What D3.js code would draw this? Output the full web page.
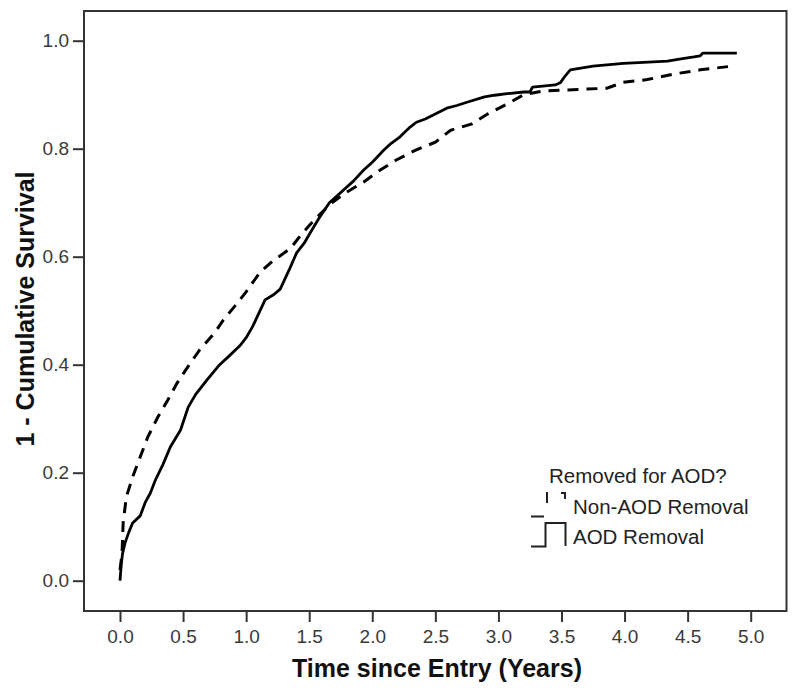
<!DOCTYPE html>
<html>
<head>
<meta charset="utf-8">
<script src="https://cdn.jsdelivr.net/npm/d3@7"></script>
<style>
  html, body { margin: 0; padding: 0; background: #fff; }
  svg { display: block; font-family: "Liberation Sans", Arial, sans-serif; }
</style>
</head>
<body>
<svg id="chart" width="800" height="699"></svg>
<script>
// ---- Data ----
const xTicks = [0, 0.5, 1, 1.5, 2, 2.5, 3, 3.5, 4, 4.5, 5];
const yTicks = [0, 0.2, 0.4, 0.6, 0.8, 1.0];
const seriesNames = ["Non-AOD Removal", "AOD Removal"];
const legendTitle = "Removed for AOD?";
const xTitle = "Time since Entry (Years)";
const yTitle = "1 - Cumulative Survival";

const aodTime = [0, 0.01, 0.02, 0.04, 0.07, 0.10, 0.16, 0.20, 0.24, 0.28, 0.34, 0.40, 0.48, 0.54, 0.60, 0.69,
  0.79, 0.86, 0.95, 1.00, 1.05, 1.09, 1.15, 1.22, 1.27, 1.34, 1.40, 1.46, 1.52, 1.58, 1.66, 1.77, 1.85, 1.93,
  2.00, 2.09, 2.15, 2.22, 2.30, 2.35, 2.42, 2.48, 2.59, 2.67, 2.75, 2.89, 2.97, 3.07, 3.20, 3.25, 3.27, 3.45, 3.49, 3.53, 3.57,
  3.75, 3.99, 4.15, 4.34, 4.46, 4.55, 4.60, 4.62, 4.89];
const aodValue = [0, 0.03, 0.05, 0.07, 0.09, 0.107, 0.12, 0.145, 0.162, 0.186, 0.215, 0.248, 0.279, 0.321, 0.345, 0.372,
  0.40, 0.415, 0.435, 0.45, 0.47, 0.49, 0.52, 0.53, 0.54, 0.575, 0.607, 0.625, 0.649, 0.672, 0.70, 0.723, 0.74, 0.76,
  0.775, 0.797, 0.81, 0.822, 0.84, 0.849, 0.855, 0.862, 0.875, 0.88, 0.886, 0.896, 0.899, 0.902, 0.905, 0.905, 0.914, 0.918, 0.922, 0.935, 0.946,
  0.953, 0.958, 0.96, 0.962, 0.967, 0.97, 0.972, 0.977, 0.977];

const nonAodTime = [0, 0.016, 0.025, 0.05, 0.10, 0.16, 0.22, 0.30, 0.38, 0.45, 0.52, 0.63, 0.75, 0.82, 0.93, 1.00,
  1.11, 1.21, 1.35, 1.44, 1.56, 1.68, 1.80, 1.93, 2.06, 2.19, 2.34, 2.50, 2.62, 2.79, 2.92, 3.07, 3.20, 3.36,
  3.86, 3.99, 4.18, 4.41, 4.60, 4.82];
const nonAodValue = [0.02, 0.05, 0.107, 0.155, 0.192, 0.229, 0.266, 0.303, 0.335, 0.365, 0.39, 0.427, 0.459, 0.483, 0.514, 0.535,
  0.571, 0.592, 0.615, 0.642, 0.673, 0.70, 0.72, 0.738, 0.76, 0.779, 0.797, 0.812, 0.834, 0.846, 0.865, 0.883, 0.90, 0.907,
  0.912, 0.923, 0.928, 0.939, 0.946, 0.952];

// ---- Layout ----
const svg = d3.select("#chart");
const frame = { left: 84, right: 786.5, top: 11, bottom: 611 };
const x = d3.scaleLinear().domain([0, 5]).range([120, 750.7]);
const y = d3.scaleLinear().domain([0, 1]).range([580.7, 40.7]);
const axisColor = "#333";

// frame
svg.append("rect")
  .attr("x", frame.left).attr("y", frame.top)
  .attr("width", frame.right - frame.left).attr("height", frame.bottom - frame.top)
  .attr("fill", "none").attr("stroke", axisColor).attr("stroke-width", 2);

// x axis
const gx = svg.append("g").attr("transform", `translate(0,${frame.bottom})`)
  .call(d3.axisBottom(x).tickValues(xTicks).tickFormat(d3.format(".1f")).tickSize(11).tickPadding(8));
gx.select(".domain").remove();
gx.selectAll(".tick line").attr("stroke", axisColor).attr("stroke-width", 2);
gx.selectAll(".tick text").attr("font-size", 19).attr("fill", "#3a3a3a")
  .attr("font-family", "'Liberation Sans', Arial, sans-serif");

// y axis
const gy = svg.append("g").attr("transform", `translate(${frame.left},0)`)
  .call(d3.axisLeft(y).tickValues(yTicks).tickFormat(d3.format(".1f")).tickSize(11).tickPadding(4));
gy.select(".domain").remove();
gy.selectAll(".tick line").attr("stroke", axisColor).attr("stroke-width", 2);
gy.selectAll(".tick text").attr("font-size", 19).attr("fill", "#3a3a3a")
  .attr("font-family", "'Liberation Sans', Arial, sans-serif");

// axis titles
svg.append("text").attr("x", 437).attr("y", 677).attr("text-anchor", "middle")
  .attr("font-size", 25).attr("font-weight", "bold").attr("fill", "#111").text(xTitle);
svg.append("text").attr("transform", "translate(34,309) rotate(-90)").attr("text-anchor", "middle")
  .attr("font-size", 25).attr("font-weight", "bold").attr("fill", "#111").text(yTitle);

// curves
const line = d3.line().x(d => x(d[0])).y(d => y(d[1])).curve(d3.curveLinear);
const aodData = aodTime.map((t, i) => [t, aodValue[i]]);
const nonAodData = nonAodTime.map((t, i) => [t, nonAodValue[i]]);

svg.append("path").datum(nonAodData).attr("d", line)
  .attr("fill", "none").attr("stroke", "#000").attr("stroke-width", 3)
  .attr("stroke-dasharray", "11,8");
svg.append("path").datum(aodData).attr("d", line)
  .attr("fill", "none").attr("stroke", "#000").attr("stroke-width", 2.8)
  .attr("stroke-linejoin", "round");

// legend
const lg = svg.append("g");
lg.append("text").attr("x", 549).attr("y", 483).attr("font-size", 20.5).attr("fill", "#222").text(legendTitle);
lg.append("text").attr("x", 573).attr("y", 514).attr("font-size", 20.5).attr("fill", "#222").text(seriesNames[0]);
lg.append("text").attr("x", 573).attr("y", 544).attr("font-size", 20.5).attr("fill", "#222").text(seriesNames[1]);
// dashed symbol
lg.append("path").attr("d", "M531,516.5 H544 M547,492 V503 M561,493 H565 V499")
  .attr("fill", "none").attr("stroke", "#222").attr("stroke-width", 2);
// solid symbol
lg.append("path").attr("d", "M531,546.5 H545.5 V523 H565.5 V546")
  .attr("fill", "none").attr("stroke", "#222").attr("stroke-width", 2);
</script>
</body>
</html>
